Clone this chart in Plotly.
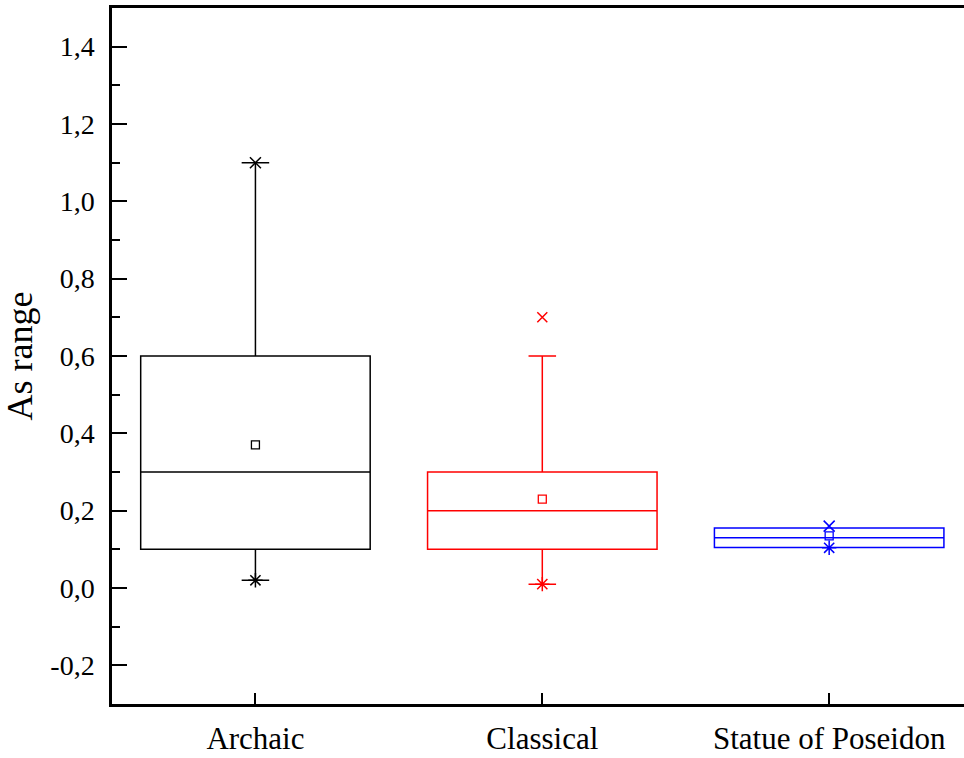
import plotly.graph_objects as go

# Box statistics per group
groups = ["Archaic", "Classical", "Statue of Poseidon"]
colors = ["#000000", "#FF0000", "#0000FF"]
q1 = [0.10, 0.10, 0.105]
median = [0.30, 0.20, 0.13]
q3 = [0.60, 0.30, 0.155]
lower_whisker = [0.02, 0.01, 0.105]
upper_whisker = [1.10, 0.60, 0.155]
means = [0.37, 0.23, 0.135]
# extreme markers drawn at the whisker ends
max_marks = [1.10, None, 0.16]
min_marks = [0.02, 0.01, 0.104]
# outliers
outlier_group = ["Classical"]
outlier_value = [0.70]
outlier_color = ["#FF0000"]

y_ticks = [-0.2, 0.0, 0.2, 0.4, 0.6, 0.8, 1.0, 1.2, 1.4]
y_tick_text = ["-0,2", "0,0", "0,2", "0,4", "0,6", "0,8", "1,0", "1,2", "1,4"]

fig = go.Figure()

for i, g in enumerate(groups):
    fig.add_trace(go.Box(
        x=[g], q1=[q1[i]], median=[median[i]], q3=[q3[i]],
        lowerfence=[lower_whisker[i]], upperfence=[upper_whisker[i]],
        width=0.8, whiskerwidth=0.12,
        line=dict(color=colors[i], width=1.5),
        fillcolor="rgba(0,0,0,0)",
        boxpoints=False, showlegend=False, hoverinfo="skip",
    ))
    # mean
    fig.add_trace(go.Scatter(
        x=[g], y=[means[i]], mode="markers", showlegend=False,
        marker=dict(symbol="square-open", size=8, color=colors[i],
                    line=dict(width=1.3, color=colors[i])),
    ))
    if max_marks[i] is not None:
        fig.add_trace(go.Scatter(
            x=[g], y=[max_marks[i]], mode="markers", showlegend=False,
            marker=dict(symbol="x-thin", size=11, color=colors[i],
                        line=dict(width=1.5, color=colors[i])),
        ))
    fig.add_trace(go.Scatter(
        x=[g], y=[min_marks[i]], mode="markers", showlegend=False,
        marker=dict(symbol="asterisk", size=12, color=colors[i],
                    line=dict(width=1.5, color=colors[i])),
    ))

for g, v, c in zip(outlier_group, outlier_value, outlier_color):
    fig.add_trace(go.Scatter(
        x=[g], y=[v], mode="markers", showlegend=False,
        marker=dict(symbol="x-thin", size=10, color=c,
                    line=dict(width=1.5, color=c)),
    ))

fig.update_layout(
    width=964, height=758,
    margin=dict(l=112, r=0, t=8, b=54),
    paper_bgcolor="white", plot_bgcolor="white",
    font=dict(family="Liberation Serif", color="black"),
    xaxis=dict(
        type="category", categoryorder="array", categoryarray=groups,
        range=[-0.5, 2.47], automargin=False,
        showline=True, linewidth=2.5, linecolor="black", mirror=True,
        ticks="inside", ticklen=11, tickwidth=2, tickcolor="black",
        showgrid=False, zeroline=False,
        tickfont=dict(size=31, family="Liberation Serif"),
        ticklabelstandoff=5,
    ),
    yaxis=dict(
        range=[-0.3, 1.5], automargin=False,
        tickvals=y_ticks, ticktext=y_tick_text,
        showline=True, linewidth=2.5, linecolor="black", mirror=False,
        ticks="inside", ticklen=15, tickwidth=2, tickcolor="black",
        minor=dict(dtick=0.1, tick0=0, ticks="inside", ticklen=8,
                   tickwidth=2, tickcolor="black", showgrid=False),
        showgrid=False, zeroline=False,
        tickfont=dict(size=28, family="Liberation Serif"),
        ticklabelstandoff=9,
        title=dict(text="As range", font=dict(size=36, family="Liberation Serif"),
                   standoff=12),
    ),
)

fig.write_html("out.html")
